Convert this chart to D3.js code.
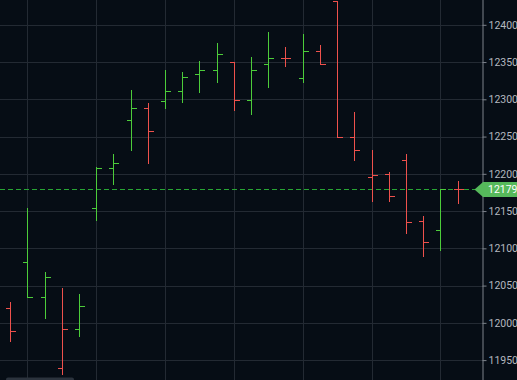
<!DOCTYPE html>
<html>
<head>
<meta charset="utf-8">
<script src="https://cdn.jsdelivr.net/npm/d3@7"></script>
<style>
  html, body { margin: 0; padding: 0; background: #060d15; overflow: hidden; }
  svg { display: block; }
</style>
</head>
<body>
<div id="chart"></div>
<script>
// OHLC values, one entry per bar
var opens  = [12020, 12081, 12035, 11939, 11992, 12154, 12208, 12272, 12288, 12298, 12311, 12334, 12339, 12350, 12299, 12347, 12355, 12328, 12365, 12432, 12249, 12196, 12200, 12219, 12137, 12125, 12179];
var highs  = [12028, 12154, 12068, 12047, 12039, 12209, 12226, 12313, 12295, 12339, 12337, 12352, 12375, 12350, 12357, 12391, 12370, 12387, 12373, 12432, 12283, 12232, 12202, 12226, 12143, 12179, 12190];
var lows   = [11976, 12035, 12006, 11932, 11982, 12138, 12187, 12232, 12214, 12288, 12296, 12310, 12323, 12286, 12280, 12316, 12345, 12323, 12347, 12249, 12219, 12163, 12163, 12120, 12090, 12098, 12161];
var closes = [11989, 12035, 12061, 11992, 12022, 12208, 12214, 12288, 12258, 12311, 12330, 12339, 12361, 12299, 12340, 12355, 12355, 12365, 12347, 12249, 12232, 12199, 12170, 12135, 12108, 12179, 12179];
var yTicks = [11950, 12000, 12050, 12100, 12150, 12200, 12250, 12300, 12350, 12400];
var gridBars = [1, 5, 9, 13, 17, 21, 25];
var lastPrice = 12179;

var W = 517, H = 380;
var axisX = 482.5;
var bg = '#060d15', gridCol = '#232a33', upCol = '#4ccc3a', downCol = '#ee514c';

var svg = d3.select('#chart').append('svg').attr('width', W).attr('height', H);
svg.append('rect').attr('width', W).attr('height', H).attr('fill', bg);

var x = d3.scaleLinear().domain([0, opens.length - 1]).range([10.1, 457.6]);
var y = d3.scaleLinear().domain([11950, 12400]).range([360.1, 24.8]);

// grid
var grid = svg.append('g').attr('shape-rendering', 'crispEdges');
grid.selectAll('line.h').data(yTicks).join('line').attr('class', 'h')
    .attr('x1', 0).attr('x2', axisX).attr('y1', function(d){ return Math.round(y(d)) + 0.5; }).attr('y2', function(d){ return Math.round(y(d)) + 0.5; })
    .attr('stroke', gridCol).attr('stroke-width', 1);
grid.selectAll('line.v').data(gridBars).join('line').attr('class', 'v')
    .attr('y1', 0).attr('y2', H).attr('x1', function(d){ return Math.round(x(d)) + 0.5; }).attr('x2', function(d){ return Math.round(x(d)) + 0.5; })
    .attr('stroke', gridCol).attr('stroke-width', 1);

// last price line
svg.append('line').attr('x1', 0).attr('x2', 476)
    .attr('y1', Math.round(y(lastPrice)) + 0.5).attr('y2', Math.round(y(lastPrice)) + 0.5)
    .attr('stroke', '#28a534').attr('stroke-width', 1).attr('stroke-dasharray', '5,3');

// OHLC bars, coloured against the previous close
var bars = d3.range(opens.length).map(function(i){
    return {i: i, o: opens[i], h: highs[i], l: lows[i], c: closes[i], up: i > 0 && closes[i] > closes[i - 1]};
});
var tick = 5;
var bar = svg.append('g').attr('shape-rendering', 'crispEdges')
    .selectAll('g').data(bars).join('g')
    .attr('stroke', function(d){ return d.up ? upCol : downCol; }).attr('stroke-width', 1);
function px(d){ return Math.round(x(d.i)) + 0.5; }
function py(v){ return Math.round(y(v)) + 0.5; }
bar.append('line').attr('x1', px).attr('x2', px)
    .attr('y1', function(d){ return Math.round(y(d.h)); }).attr('y2', function(d){ return Math.round(y(d.l)) + 1; });
bar.append('line').attr('x1', function(d){ return px(d) - tick; }).attr('x2', px)
    .attr('y1', function(d){ return py(d.o); }).attr('y2', function(d){ return py(d.o); });
bar.append('line').attr('x1', px).attr('x2', function(d){ return px(d) + tick; })
    .attr('y1', function(d){ return py(d.c); }).attr('y2', function(d){ return py(d.c); });

// price axis
var axis = svg.append('g').attr('transform', 'translate(' + axisX + ',0)')
    .call(d3.axisRight(y).tickValues(yTicks).tickSize(4).tickPadding(2).tickFormat(d3.format('d')));
axis.select('.domain').attr('stroke', '#7d838b').attr('d', 'M0.5,0V' + H);
axis.selectAll('.tick line').attr('stroke', '#7d838b');
axis.selectAll('.tick text').attr('fill', '#b4b8bf').attr('font-family', 'Roboto, sans-serif').attr('font-size', '10.5px');

// last price label
var ly = y(lastPrice);
svg.append('path')
    .attr('d', 'M474.5,' + ly + 'L483,' + (ly - 7.5) + 'H' + (W + 2) + 'V' + (ly + 7.5) + 'H483Z')
    .attr('fill', '#56b95b');
svg.append('text').attr('x', 488).attr('y', ly).attr('dy', '0.35em')
    .attr('fill', '#ffffff').attr('font-family', 'Roboto, sans-serif').attr('font-size', '10.5px')
    .text(lastPrice);

// faint scrollbar at the bottom
svg.append('rect').attr('x', 6).attr('y', 377.5).attr('width', 68).attr('height', 4).attr('rx', 2)
    .attr('fill', '#2b333d');
</script>
</body>
</html>
